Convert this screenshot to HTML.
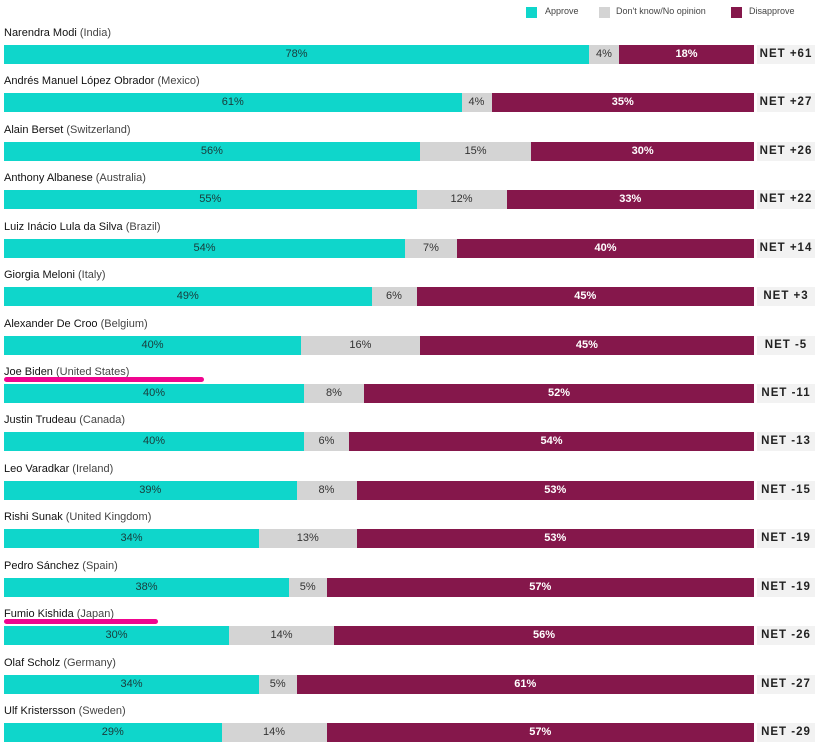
<!DOCTYPE html>
<html><head><meta charset="utf-8"><style>
body{margin:0;width:819px;height:745px;background:#fff;font-family:"Liberation Sans",sans-serif;position:relative;overflow:hidden}
.abs{position:absolute}
.name{font-size:11px;color:#222;white-space:nowrap}
.name b{font-weight:normal;color:#111}
.name span{color:#444}
.seg{position:absolute;height:19px;font-size:11px;line-height:19px;text-align:center;color:#333;overflow:hidden}
.net{position:absolute;left:757px;width:58px;height:19px;background:#f2f2f2;font-size:11.5px;line-height:19px;text-align:center;color:#222;letter-spacing:1px;font-weight:bold}
.leg{font-size:9px;color:#444;top:6px}
.sw{width:11px;height:11px;top:7px}
</style></head><body>
<div class="abs sw" style="left:526px;background:#0fd6cb"></div>
<div class="abs leg" style="left:545px">Approve</div>
<div class="abs sw" style="left:599px;background:#d4d4d4"></div>
<div class="abs leg" style="left:616px">Don't know/No opinion</div>
<div class="abs sw" style="left:731px;background:#85174b"></div>
<div class="abs leg" style="left:749px">Disapprove</div>
<div id="chart"></div>
<script>
const leaders=["Narendra Modi","Andrés Manuel López Obrador","Alain Berset","Anthony Albanese","Luiz Inácio Lula da Silva","Giorgia Meloni","Alexander De Croo","Joe Biden","Justin Trudeau","Leo Varadkar","Rishi Sunak","Pedro Sánchez","Fumio Kishida","Olaf Scholz","Ulf Kristersson"];
const countries=["India","Mexico","Switzerland","Australia","Brazil","Italy","Belgium","United States","Canada","Ireland","United Kingdom","Spain","Japan","Germany","Sweden"];
const approve=[78,61,56,55,54,49,40,40,40,39,34,38,30,34,29];
const dontknow=[4,4,15,12,7,6,16,8,6,8,13,5,14,5,14];
const disapprove=[18,35,30,33,40,45,45,52,54,53,53,57,56,61,57];
const net=["+61","+27","+26","+22","+14","+3","-5","-11","-13","-15","-19","-19","-26","-27","-29"];
const highlighted=["Joe Biden","Fumio Kishida"];
const chart=document.getElementById('chart');
const X0=4,W=750,Y0=45,PITCH=48.43;
leaders.forEach((n,i)=>{
  const top=Y0+i*PITCH;
  const nm=document.createElement('div');
  nm.className='abs name';nm.style.left='4px';nm.style.top=(top-18)+'px';
  nm.innerHTML='<b>'+n+'</b> <span>('+countries[i]+')</span>';
  
  
  chart.appendChild(nm);
  if(highlighted.includes(n)){
    const u=document.createElement('div');
    u.className='abs';
    u.style.cssText='left:4px;top:'+(top-7)+'px;width:'+(n==="Joe Biden"?200:154)+'px;height:5px;border-radius:3px;background:#f0058f';
    
    
    chart.appendChild(u);
  }
  const vals=[approve[i],dontknow[i],disapprove[i]];
  const sum=vals[0]+vals[1]+vals[2];
  const cols=['#0fd6cb','#d4d4d4','#85174b'];
  const tc=['#1a3a3a','#333','#fff'];
  const names=['bar-approve','bar-dontknow','bar-disapprove'];
  let x=X0;
  vals.forEach((v,k)=>{
    const w=v/sum*W;
    const s=document.createElement('div');
    s.className='seg';
    s.style.left=x+'px';s.style.top=top+'px';s.style.width=w+'px';
    s.style.background=cols[k];s.style.color=tc[k];
    if(k==2)s.style.fontWeight='bold';
    s.textContent=v+'%';
    
    
    chart.appendChild(s);x+=w;
  });
  const nt=document.createElement('div');
  nt.className='net';nt.style.top=top+'px';
  nt.textContent='NET '+net[i];
  
  
  chart.appendChild(nt);
});
</script>
</body></html>
